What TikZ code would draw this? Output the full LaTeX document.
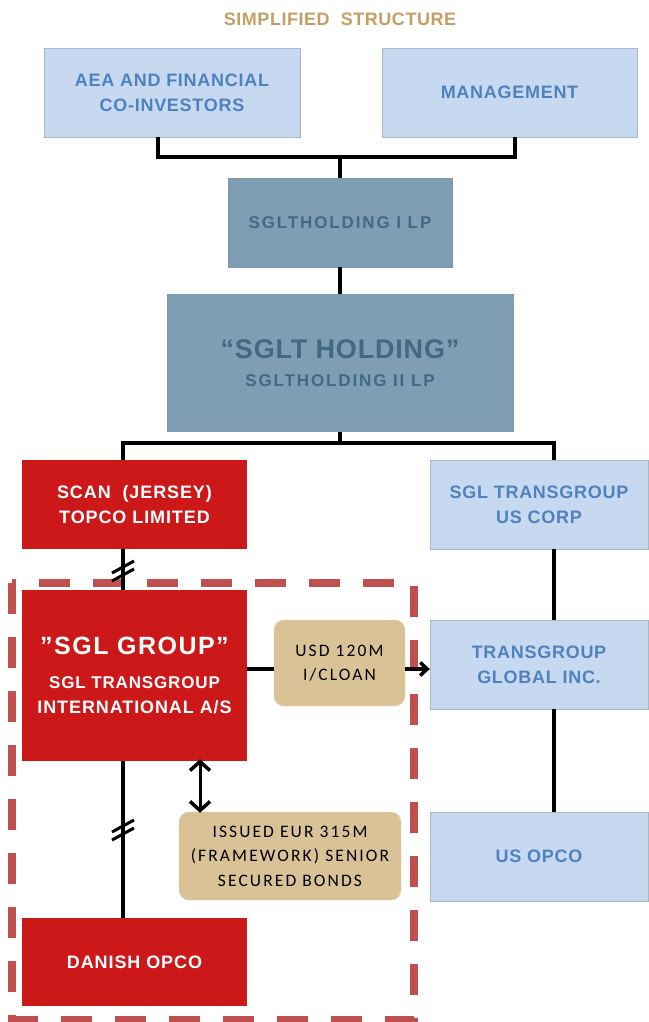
\documentclass[tikz,border=0pt]{standalone}
\usepackage{fontspec}
\setmainfont{Liberation Sans}
\newfontfamily\tanfont{Carlito}[LetterSpace=12]
\usetikzlibrary{arrows.meta}

\definecolor{paleblue}{RGB}{198,217,240}
\definecolor{paleedge}{RGB}{168,182,198}
\definecolor{textblue}{RGB}{79,129,189}
\definecolor{steel}{RGB}{126,158,180}
\definecolor{steeltext}{RGB}{66,104,134}
\definecolor{sglred}{RGB}{204,24,25}
\definecolor{tan}{RGB}{216,194,150}
\definecolor{tanedge}{RGB}{226,210,178}
\definecolor{groupred}{RGB}{192,80,77}
\definecolor{titlegold}{RGB}{196,158,98}

\begin{document}
\begin{tikzpicture}[x=1pt,y=-1pt,
    every node/.style={inner sep=0pt,align=center},
    lightbox/.style={draw=paleedge,fill=paleblue,text=textblue,
      font=\fontsize{18}{25}\selectfont\bfseries\addfontfeature{LetterSpace=4}},
    holdbox/.style={draw=steel!85!gray,fill=steel,text=steeltext,
      font=\fontsize{17}{22}\selectfont\bfseries\addfontfeature{LetterSpace=11}},
    redbox/.style={fill=sglred,text=white,
      font=\fontsize{18}{25}\selectfont\bfseries\addfontfeature{LetterSpace=5}},
    tanbox/.style={draw=tanedge,fill=tan,rounded corners=10pt,
      font=\fontsize{17.5}{24.5}\selectfont\tanfont},
    link/.style={line width=3.5pt,black},
    breakmark/.style={line width=3pt,black},
    tip/.style={-{Straight Barb[length=7pt,width=13pt]}},
    bothtips/.style={{Straight Barb[length=9pt,width=20pt,line width=3.5pt]}-{Straight Barb[length=9pt,width=20pt,line width=3.5pt]}},
    groupline/.style={draw=groupred,line width=7.5pt,dash pattern=on 31pt off 23pt}]
  \useasboundingbox (0,0) rectangle (648,1022);

  % SGL group perimeter
  \draw[groupline] (12,583) rectangle (414,1020);

  \node[text=titlegold,font=\fontsize{18}{22}\selectfont\bfseries\addfontfeature{LetterSpace=3}] (title) at (340,19) {SIMPLIFIED\ \ STRUCTURE};

  % owners and holding layers
  \node[lightbox,minimum width=256,minimum height=89] (aea) at (172,92.5) {AEA AND FINANCIAL\\CO-INVESTORS};
  \node[lightbox,minimum width=255,minimum height=89] (mgmt) at (509.5,92.5) {MANAGEMENT};
  \node[holdbox,minimum width=224,minimum height=89] (hold1) at (340,222.5) {SGLTHOLDING I LP};
  \node[holdbox,minimum width=346,minimum height=137] (hold2) at (340,363)
    {{\fontsize{27}{34}\selectfont\addfontfeature{LetterSpace=3}“SGLT HOLDING”}\\[6pt]SGLTHOLDING II LP};

  % left branch
  \node[redbox,minimum width=225,minimum height=89] (scan) at (134.5,504.5) {SCAN\ \ (JERSEY)\\TOPCO LIMITED};
  \node[redbox,minimum width=225,minimum height=171] (sglgroup) at (134.5,675.5)
    {\fontsize{25}{36}\selectfont\addfontfeature{LetterSpace=6}”SGL GROUP”\\[9pt]
     \fontsize{17}{21}\selectfont\addfontfeature{LetterSpace=5}SGL TRANSGROUP\\INTERNATIONAL\ A/S};
  \node[redbox,minimum width=225,minimum height=88] (danish) at (134.5,962) {DANISH OPCO};
  \node[tanbox,minimum width=131,minimum height=86] (loan) at (339.5,663) {USD 120M\\I/CLOAN};
  \node[tanbox,minimum width=222,minimum height=88] (bonds) at (290,856) {ISSUED EUR 315M\\(FRAMEWORK) SENIOR\\SECURED BONDS};

  % right branch
  \node[lightbox,minimum width=218,minimum height=89] (uscorp) at (539,504.5) {SGL TRANSGROUP\\US CORP};
  \node[lightbox,minimum width=218,minimum height=89] (global) at (539,664.5) {TRANSGROUP\\GLOBAL INC.};
  \node[lightbox,minimum width=218,minimum height=89] (usopco) at (539,856.5) {US OPCO};

  \coordinate (jl) at (158,157);
  \coordinate (jr) at (515,157);
  \coordinate (jm) at (340,157);
  \coordinate (sl) at (123,443);
  \coordinate (sr) at (554,443);
  \coordinate (ly) at (260,669);
  \coordinate (bx) at (200,790);
  \coordinate (b1) at (123,571);
  \coordinate (b2) at (123,830);

  \begin{scope}[link]
    \draw (aea.south -| jl) -- (jl) -- (jr) -- (mgmt.south -| jr);
    \draw (jm) -- (hold1.north);
    \draw (hold1) -- (hold2);
    \draw (hold2.south) -- (hold2.south |- sl);
    \draw (scan.north -| sl) -- (sl) -- (sr) -- (uscorp.north -| sr);
    \draw (scan.south -| sl) -- (sglgroup.north -| sl);
    \draw (sglgroup.south -| sl) -- (danish.north -| sl);
    \draw (uscorp.south -| sr) -- (global.north -| sr);
    \draw (global.south -| sr) -- (usopco.north -| sr);
    \draw (sglgroup.east |- ly) -- (loan.west |- ly);
    \draw[tip] (loan.east |- ly) -- (global.west |- ly);
  \end{scope}
  \draw[line width=3pt,bothtips] ([yshift=2pt]sglgroup.south -| bx) -- ([yshift=-1pt]bonds.north -| bx);

  % breaks in ownership
  \draw[breakmark] ([shift={(-11,2)}]b1) -- ([shift={(11,-10)}]b1)
                   ([shift={(-11,10)}]b1) -- ([shift={(11,-2)}]b1);
  \draw[breakmark] ([shift={(-11,2)}]b2) -- ([shift={(11,-10)}]b2)
                   ([shift={(-11,10)}]b2) -- ([shift={(11,-2)}]b2);
\end{tikzpicture}
\end{document}
